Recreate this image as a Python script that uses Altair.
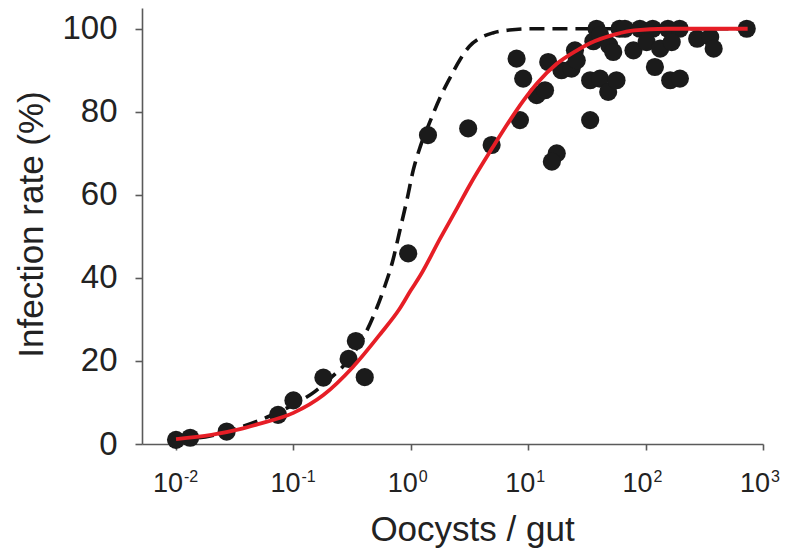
import altair as alt
import pandas as pd

# Observed data points (oocysts/gut, infection rate %)
point_x = [0.01, 0.0132, 0.027, 0.074, 0.10, 0.18, 0.295, 0.34, 0.405, 0.95,
           1.40, 3.08, 4.88,
           7.96, 9.06, 11.8, 13.9, 8.5, 17.5, 15.9, 14.8, 19.2, 23.4, 25.0, 25.9,
           33.7, 40.9, 48.0, 33.7, 38.2, 35.9, 56.5, 41.0, 49.0, 60.0,
           66.7, 89.4, 115, 155, 195,
           53.0, 78.8, 102, 133, 167, 120, 162, 196, 275, 355, 380, 727]
point_y = [1.0, 1.5, 3.0, 7.0, 10.5, 16.0, 20.5, 24.8, 16.1, 45.9,
           74.4, 76.0, 72.0,
           92.8, 88.0, 84.0, 85.2, 78.0, 70.0, 68.0, 92.0, 90.0, 90.4, 94.8, 92.4,
           87.6, 88.0, 84.8, 78.0, 100, 97.0, 87.6, 98.5, 96.0, 100,
           100, 100, 100, 100, 100,
           94.4, 94.8, 96.8, 95.2, 96.8, 90.8, 87.6, 88.0, 97.6, 98.0, 95.2, 100]

# Red solid fitted curve
red_x = [0.01, 0.02, 0.035, 0.05, 0.1, 0.18, 0.32, 0.55, 0.8, 1.0, 1.2, 1.78,
         2.5, 3.2, 5.0, 7.0, 9.0, 12, 17.4, 25, 33.6, 56, 80, 150, 740]
red_y = [1.2, 2.2, 3.6, 4.8, 7.5, 11.8, 18.5, 26.5, 32.5, 37.0, 40.5, 49.5,
         57.0, 62.5, 71.5, 78.0, 82.5, 87.0, 91.5, 94.5, 96.5, 98.7, 99.6, 100, 100]

# Black dashed curve
dash_x = [0.01, 0.02, 0.035, 0.06, 0.1, 0.15, 0.2, 0.3, 0.4, 0.5, 0.6, 0.7,
          0.8, 0.93, 1.05, 1.2, 1.45, 1.78, 2.14, 2.63, 3.16, 3.9, 5.0, 6.9,
          10, 900]
dash_y = [1.0, 2.0, 4.0, 6.5, 9.5, 12.5, 15.5, 20.5, 26.0, 32.0, 38.0, 44.0,
          51.0, 59.0, 66.0, 71.5, 77.5, 83.5, 88.0, 92.6, 95.8, 97.8, 99.0,
          99.7, 100, 100]

# X tick labels (10^n)
tick_values = [0.01, 0.1, 1, 10, 100, 1000]
tick_base = ["10"] * 6
tick_exponents = ["-2", "-1", "0", "1", "2", "3"]

y_ticks = [0, 20, 40, 60, 80, 100]

pts = pd.DataFrame({"x": point_x, "y": point_y})
red = pd.DataFrame({"x": red_x, "y": red_y})
dash = pd.DataFrame({"x": dash_x, "y": dash_y})
ticks = pd.DataFrame({"x": tick_values, "base": tick_base, "exp": tick_exponents})

AX = "#5a5a5a"
TXT = "#222222"

X = alt.X("x:Q",
          scale=alt.Scale(type="log", domain=[0.00513, 1000], nice=False),
          axis=alt.Axis(values=tick_values, labels=False, grid=False,
                        domainColor=AX, domainWidth=1.6, tickColor=AX,
                        tickWidth=1.6, tickSize=6,
                        title="Oocysts / gut", titleFontSize=35,
                        titleFontWeight="normal", titleColor=TXT,
                        titleX=330, titleY=96, titleBaseline="alphabetic",
                        titleAlign="center"))
Y = alt.Y("y:Q",
          scale=alt.Scale(domain=[0, 105], nice=False, zero=True),
          axis=alt.Axis(values=y_ticks, grid=False,
                        domainColor=AX, domainWidth=1.6, tickColor=AX,
                        tickWidth=1.6, tickSize=7, labelFontSize=33,
                        labelColor=TXT, labelPadding=18,
                        title="Infection rate (%)", titleFontSize=35,
                        titleFontWeight="normal", titleColor=TXT,
                        titleAngle=270, titleX=-100, titleY=216,
                        titleBaseline="alphabetic", titleAlign="center"))

dashed = alt.Chart(dash).mark_line(
    color="#111111", strokeWidth=3.6, strokeDash=[15, 8], interpolate="monotone"
).encode(x=X, y=Y)

points = alt.Chart(pts).mark_circle(
    size=330, color="#1b1b1b", opacity=1
).encode(x=X, y=Y)

redline = alt.Chart(red).mark_line(
    color="#e61e26", strokeWidth=3.8, interpolate="monotone"
).encode(x=X, y=Y)

lab_base = alt.Chart(ticks).mark_text(
    align="right", baseline="alphabetic", fontSize=27, color=TXT, dx=7
).encode(x=X, y=alt.value(484), text="base:N")

lab_exp = alt.Chart(ticks).mark_text(
    align="left", baseline="alphabetic", fontSize=16, color=TXT, dx=8
).encode(x=X, y=alt.value(474), text="exp:N")

chart = alt.layer(dashed, points, redline, lab_base, lab_exp).properties(
    width=621, height=436,
    autosize=alt.AutoSizeParams(type="none"),
    padding={"left": 142, "top": 8, "right": 25, "bottom": 105},
).configure(font="Liberation Sans").configure_view(stroke=None)

chart.save("out.html", embed_options={"renderer": "svg", "actions": False})
